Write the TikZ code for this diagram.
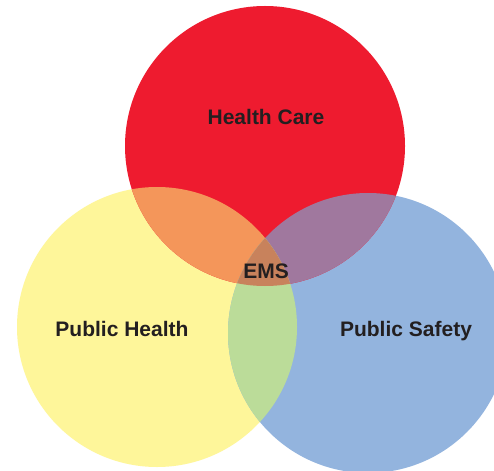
\documentclass[tikz,border=0pt]{standalone}
\usepackage{fontspec}
\setmainfont{Liberation Sans}

\definecolor{carered}{HTML}{EE1B2F}
\definecolor{healthyellow}{HTML}{FEF69A}
\definecolor{safetyblue}{HTML}{93B4DE}
\definecolor{careandhealth}{HTML}{F4965A}
\definecolor{careandsafety}{HTML}{A0789E}
\definecolor{healthandsafety}{HTML}{BBDC99}
\definecolor{emscore}{HTML}{C8825C}
\definecolor{labeltext}{HTML}{231F20}

\tikzset{
  field/.style={font=\bfseries\fontsize{21}{25}\selectfont, text=labeltext, anchor=base, inner sep=0pt},
}

\begin{document}
\begin{tikzpicture}[x=1pt,y=-1pt]
  % page frame, the blue circle runs off the right edge
  \clip (0,0) rectangle (494,470);
  \fill[white] (0,0) rectangle (494,470);

  % centres of the three fields
  \coordinate (care) at (265,146);
  \coordinate (health) at (157,327);
  \coordinate (safety) at (368,333);

  % the three fields
  \fill[healthyellow] (health) circle (140pt);
  \fill[safetyblue] (safety) circle (140pt);
  \fill[carered] (care) circle (140pt);

  % pairwise overlaps
  \begin{scope}
    \clip (care) circle (140pt);
    \fill[careandhealth] (health) circle (140pt);
    \fill[careandsafety] (safety) circle (140pt);
  \end{scope}
  \begin{scope}
    \clip (health) circle (140pt);
    \fill[healthandsafety] (safety) circle (140pt);
  \end{scope}

  % where all three meet
  \begin{scope}
    \clip (care) circle (140pt);
    \clip (health) circle (140pt);
    \fill[emscore] (safety) circle (140pt);
  \end{scope}

  % labels
  \node[field] (carelabel) at (266,125) {Health Care};
  \node[field] (emslabel) at (266,278) {EMS};
  \node[field] (healthlabel) at (122,336) {Public Health};
  \node[field] (safetylabel) at (406,336) {Public Safety};
\end{tikzpicture}
\end{document}
